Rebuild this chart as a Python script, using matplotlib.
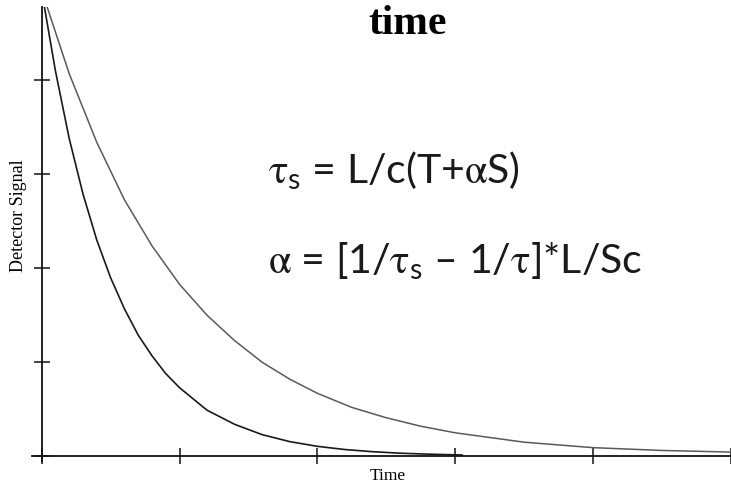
import matplotlib
matplotlib.use("Agg")
import matplotlib.pyplot as plt

# values (time in tick units, signal in tick units)
t_fast = [0.02, 0.1, 0.2, 0.3, 0.4, 0.5, 0.6, 0.7, 0.8, 0.9, 1.0, 1.2, 1.4,
          1.6, 1.8, 2.0, 2.2, 2.4, 2.6, 2.8, 3.05]
s_fast = [4.78, 4.10, 3.38, 2.79, 2.30, 1.90, 1.57, 1.29, 1.07, 0.88, 0.73,
          0.49, 0.34, 0.23, 0.156, 0.106, 0.072, 0.049, 0.033, 0.023, 0.014]

t_slow = [0.04, 0.2, 0.4, 0.6, 0.8, 1.0, 1.2, 1.4, 1.6, 1.8, 2.0, 2.25, 2.5,
          2.75, 3.0, 3.5, 4.0, 4.5, 5.0]
s_slow = [4.78, 4.07, 3.34, 2.73, 2.24, 1.83, 1.50, 1.23, 1.00, 0.82, 0.67,
          0.52, 0.41, 0.32, 0.25, 0.15, 0.092, 0.062, 0.045]

x_ticks = [0, 1, 2, 3, 4, 5]
y_ticks = [0, 1, 2, 3, 4]

title = "time"
xlabel = "Time"
ylabel = "Detector Signal"
eq1 = r"$\mathrm{\tau}_{\mathsf{s}}$ = L/c(T+$\mathrm{\alpha}$S)"
eq2 = r"$\mathrm{\alpha}$ = [1/$\mathrm{\tau}_{\mathsf{s}}$ – 1/$\mathrm{\tau}$]*L/Sc"

plt.rcParams['mathtext.fontset'] = 'custom'
plt.rcParams['mathtext.rm'] = 'STIXGeneral'
plt.rcParams['mathtext.sf'] = 'Lato'

W, H = 731, 485
fig = plt.figure(figsize=(W / 100, H / 100), dpi=100)
ax = fig.add_axes([32 / W, 23 / H, (W - 32) / W, (H - 8 - 23) / H])

ax.plot(t_slow, s_slow, color='#5a5a5a', lw=1.1)
ax.plot(t_fast, s_fast, color='#1a1a1a', lw=1.2)

ax.set_xlim(-0.07, 4.99)
ax.set_ylim(-0.05, 4.78)
ax.spines['left'].set_position(('data', 0))
ax.spines['bottom'].set_position(('data', 0))
for side in ['top', 'right']:
    ax.spines[side].set_visible(False)
for side in ['left', 'bottom']:
    ax.spines[side].set_linewidth(1.3)
    ax.spines[side].set_color('#111111')
ax.set_xticks(x_ticks)
ax.set_yticks(y_ticks)
ax.tick_params(direction='inout', length=11.5, width=1.1, color='#111111',
               labelbottom=False, labelleft=False)
for tk in ax.xaxis.get_major_ticks() + ax.yaxis.get_major_ticks():
    tk.tick1line.set_clip_on(False)

def fx(px):
    return px / W

def fy(py):
    return 1 - py / H

fig.text(fx(408), fy(34), title, ha='center', va='baseline',
         family='Liberation Serif', weight='bold', fontsize=30)
fig.text(fx(388), fy(480), xlabel, ha='center', va='baseline',
         family='Liberation Serif', fontsize=12.5)
fig.text(fx(19), fy(216), ylabel, ha='center', va='center', rotation=90,
         family='Liberation Serif', fontsize=13)

fig.text(fx(268), fy(183), eq1, ha='left', va='baseline',
         family='Lato', fontsize=29.5, color='#1a1a1a')
fig.text(fx(268), fy(273), eq2, ha='left', va='baseline',
         family='Lato', fontsize=29.5, color='#1a1a1a')

fig.savefig('out.png', dpi=100, facecolor='white')
